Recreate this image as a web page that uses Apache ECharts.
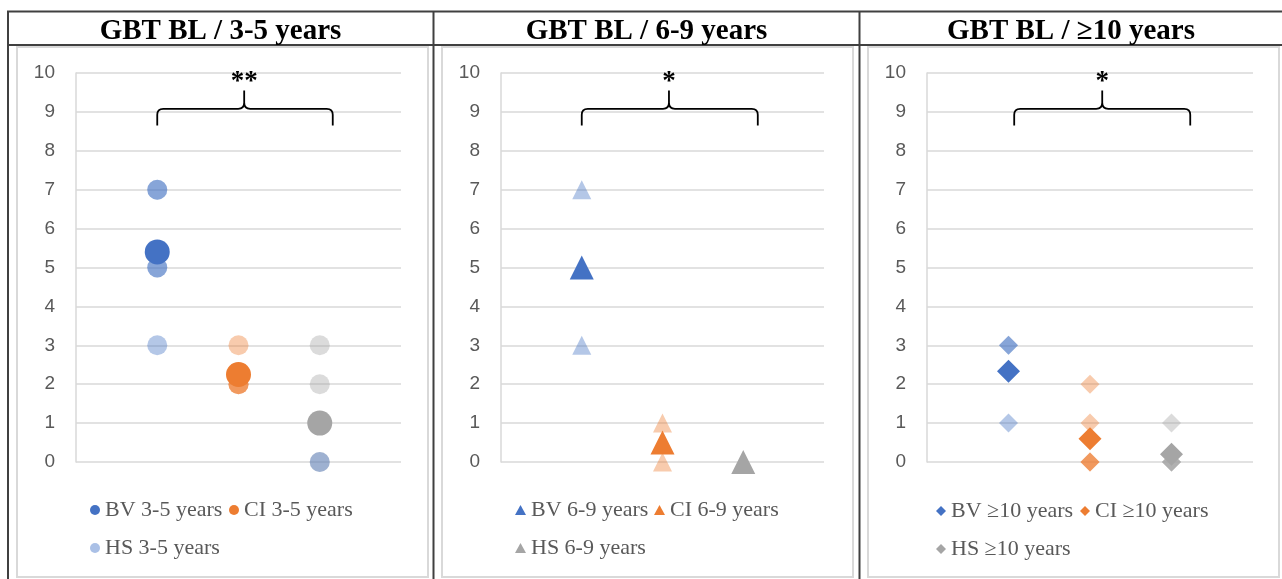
<!DOCTYPE html>
<html><head><meta charset="utf-8">
<script src="https://cdn.jsdelivr.net/npm/echarts@6/dist/echarts.min.js"></script>
<style>html,body{margin:0;padding:0;background:#fff}#c{width:1282px;height:579px}</style>
</head><body><div id="c"></div><script>
// ---- data ----
const titles = ['GBT BL / 3-5 years', 'GBT BL / 6-9 years', 'GBT BL / \u226510 years'];
const groups = ['BV', 'CI', 'HS'];
const ageLabels = ['3-5 years', '6-9 years', '\u226510 years'];
// individual observations (overlapping markers darken)
const p1BV = [7, 7, 5, 5, 3];
const p1CI = [3, 2, 2, 2];
const p1HS = [3, 2, 0];
const p1HSblue = [0];
const p2BV = [7, 3];
const p2CI = [1, 0];
const p2HS = [0];
const p3BV = [3, 3, 1];
const p3CI = [2, 1, 0, 0, 0];
const p3HS = [1, 0, 0, 0, 0];
// group means
const p1Means = [5.4, 2.25, 1];
const p2Means = [5, 0.5, 0];
const p3Means = [2.33, 0.6, 0.2];
// significance annotation (x in category units, y in axis units)
const sigLabels = ['**', '*', '*'];
const braceLeft = [1.0, 1.0, 1.07];
const bracePeak = [2.07, 2.08, 2.15];
const braceRight = [3.16, 3.18, 3.23];
const braceEndY = 8.65, braceBarY = 9.08, bracePeakY = 9.55, sigY = 9.78;
const yTicks = [0, 10, 1];

// ---- styling ----
const colors = ['#4472C4', '#ED7D31', '#A5A5A5'];
const lightBlue = '#4472C4';
const symbols = ['circle', 'triangle', 'diamond'];
const indSize = [20, 19, 19];
const meanSize = [25, 24, 23];
const gridLefts = [76, 501, 927];
const gridWidths = [325, 323, 326];
const titleX = [220.5, 646.5, 1071];
const legendLeft = [[90, 229, 90], [515, 654, 515], [936, 1080, 936]];
const legendTop = [[499, 499, 537], [499, 499, 537], [500, 500, 538]];

const individuals = [[p1BV, p1CI, p1HS], [p2BV, p2CI, p2HS], [p3BV, p3CI, p3HS]];
const means = [p1Means, p2Means, p3Means];

const grid = [], xAxis = [], yAxis = [], series = [], legend = [];
for (let p = 0; p < 3; p++) {
  grid.push({left: gridLefts[p], width: gridWidths[p], top: 73, height: 389});
  xAxis.push({type: 'value', gridIndex: p, min: 0, max: 4, show: false});
  yAxis.push({type: 'value', gridIndex: p, min: yTicks[0], max: yTicks[1], interval: yTicks[2],
    axisLine: {show: true, lineStyle: {color: '#d9d9d9', width: 1.5}},
    axisTick: {show: false},
    splitLine: {lineStyle: {color: '#d9d9d9', width: 1.5}},
    axisLabel: {color: '#595959', fontSize: 19, margin: 21, fontFamily: 'Liberation Sans'}});
  for (let g = 0; g < 3; g++) {
    series.push({type: 'scatter', xAxisIndex: p, yAxisIndex: p, silent: true, z: 2,
      name: groups[g] + ' ' + ageLabels[p] + ' obs',
      symbol: symbols[p], symbolSize: indSize[p],
      itemStyle: {color: colors[g], opacity: 0.4},
      data: individuals[p][g].map(v => [g + 1, v])});
  }
  if (p === 0) {
    series.push({type: 'scatter', xAxisIndex: 0, yAxisIndex: 0, silent: true, z: 2,
      name: 'HS 3-5 years obs2', symbol: 'circle', symbolSize: indSize[0],
      itemStyle: {color: lightBlue, opacity: 0.4},
      data: p1HSblue.map(v => [3, v])});
  }
  for (let g = 0; g < 3; g++) {
    const name = groups[g] + ' ' + ageLabels[p];
    series.push({type: 'scatter', xAxisIndex: p, yAxisIndex: p, z: 3, name: name,
      symbol: symbols[p], symbolSize: meanSize[p],
      itemStyle: {color: colors[g], opacity: 1},
      data: [[g + 1, means[p][g]]]});
    const ld = {name: name, icon: symbols[p]};
    if (p === 0 && g === 2) ld.itemStyle = {color: '#aac0e6'};
    legend.push({data: [ld], left: legendLeft[p][g], top: legendTop[p][g], padding: 0,
      selectedMode: false, itemWidth: p === 1 ? 11 : 10, itemHeight: 10,
      textStyle: {color: '#595959', fontSize: 22, lineHeight: 22, fontFamily: 'Liberation Serif'}});
  }
  series.push({type: 'custom', xAxisIndex: p, yAxisIndex: p, silent: true, z: 4,
    data: [[braceLeft[p], braceEndY]],
    renderItem: (function (pi) {
      return function (params, api) {
        const L = api.coord([braceLeft[pi], braceEndY]);
        const B = api.coord([braceLeft[pi], braceBarY]);
        const P = api.coord([bracePeak[pi], bracePeakY]);
        const R = api.coord([braceRight[pi], braceEndY]);
        const S = api.coord([bracePeak[pi], sigY]);
        const xL = L[0], yE = L[1], yB = B[1], xP = P[0], yP = P[1], xR = R[0];
        const r = 6;
        const d = 'M' + xL + ',' + yE + ' L' + xL + ',' + (yB + r) +
          ' Q' + xL + ',' + yB + ' ' + (xL + r) + ',' + yB +
          ' L' + (xP - r) + ',' + yB + ' Q' + xP + ',' + yB + ' ' + xP + ',' + (yB - r) +
          ' L' + xP + ',' + yP +
          ' M' + xP + ',' + (yB - r) + ' Q' + xP + ',' + yB + ' ' + (xP + r) + ',' + yB +
          ' L' + (xR - r) + ',' + yB + ' Q' + xR + ',' + yB + ' ' + xR + ',' + (yB + r) +
          ' L' + xR + ',' + yE;
        return {type: 'group', children: [
          {type: 'path', shape: {pathData: d}, style: {stroke: '#000', lineWidth: 1.8, fill: null}},
          {type: 'text', style: {text: sigLabels[pi], x: S[0], y: S[1], fill: '#000',
            font: 'bold 27px "Liberation Serif"', align: 'center', verticalAlign: 'middle'}}
        ]};
      };
    })(p)});
}

const graphic = [];
const dark = '#404040';
// table lines
[[7, 11.5, 1282, 11.5], [7, 45, 1282, 45], [8, 11, 8, 579], [433.5, 11, 433.5, 579], [859.5, 11, 859.5, 579]]
  .forEach(s => graphic.push({type: 'line', silent: true, shape: {x1: s[0], y1: s[1], x2: s[2], y2: s[3]},
    style: {stroke: dark, lineWidth: 2}, z: 10}));
// chart-area borders
[[17, 428], [442, 853], [868, 1279]].forEach(b => graphic.push({type: 'rect', silent: true,
  shape: {x: b[0], y: 47, width: b[1] - b[0], height: 530},
  style: {stroke: '#d9d9d9', lineWidth: 2, fill: null}, z: 1}));
for (let p = 0; p < 3; p++) {
  graphic.push({type: 'text', silent: true, x: titleX[p], y: 31.5, z: 10,
    style: {text: titles[p], fill: '#000', font: 'bold 29px "Liberation Serif"', align: 'center', verticalAlign: 'middle'}});
}

const chart = echarts.init(document.getElementById('c'), null, {renderer: 'canvas'});
chart.setOption({animation: false, backgroundColor: '#fff', grid, xAxis, yAxis, series, legend, graphic});
</script></body></html>
